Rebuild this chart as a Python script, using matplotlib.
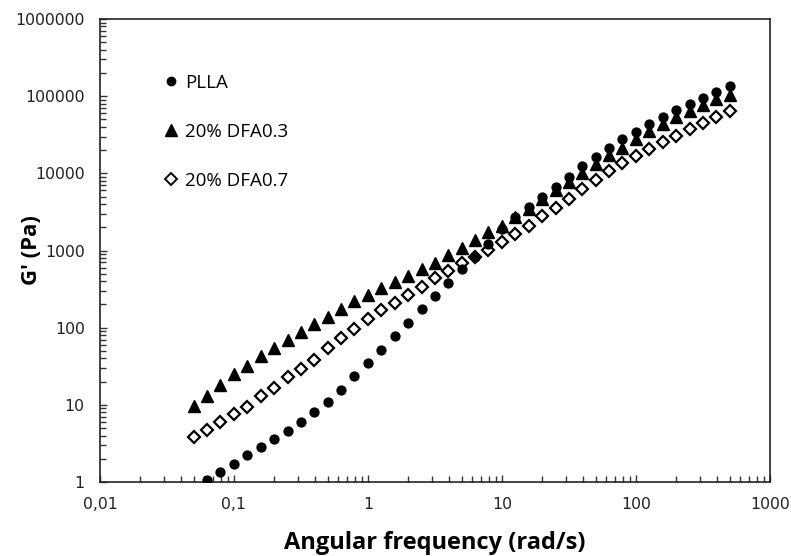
import matplotlib
matplotlib.use("Agg")
import matplotlib.pyplot as plt
from matplotlib.ticker import FixedLocator, FuncFormatter, LogLocator, NullFormatter
from matplotlib.lines import Line2D

# Angular frequency (rad/s)
freq = [0.05, 0.0629, 0.0792, 0.0998, 0.126, 0.158, 0.199, 0.251, 0.316, 0.398,
        0.5, 0.629, 0.792, 0.998, 1.26, 1.58, 1.99, 2.51, 3.16, 3.98,
        5.0, 6.29, 7.92, 9.98, 12.6, 15.8, 19.9, 25.1, 31.6, 39.8,
        50.0, 62.9, 79.2, 99.8, 126, 158, 199, 251, 316, 398, 500]

# PLLA (first frequency point is below the axis range -> starts at 0.0629)
plla_freq = freq[1:]
plla = [1.05, 1.36, 1.70, 2.23, 2.80, 3.63, 4.57, 5.92, 7.98, 11.0,
        15.6, 23.3, 34.7, 51.9, 77.3, 115, 172, 256, 375, 571,
        818, 1210, 1900, 2700, 3650, 5000, 6600, 9000, 12300, 16500,
        21500, 27500, 34500, 43000, 53000, 66000, 80000, 96000, 114000, 135000]

dfa03 = [9.8, 13.2, 18.2, 25.3, 32, 42.4, 54.4, 70, 88, 113,
         139, 177, 221, 264, 330, 394, 462, 580, 696, 877,
         1090, 1370, 1730, 2100, 2700, 3500, 4600, 6000, 7750, 10100,
         13400, 17100, 21500, 27500, 35000, 43000, 53000, 64000, 76000, 91000, 105000]

dfa07 = [3.8, 4.7, 5.92, 7.61, 9.27, 13.2, 16.4, 22.8, 29.3, 38.4,
         54.4, 73.4, 97.3, 131, 169, 206, 264, 333, 436, 547,
         684, 833, 1018, 1280, 1640, 2070, 2760, 3560, 4700, 6300,
         8200, 10800, 13600, 16800, 20500, 25500, 30500, 37000, 45000, 54000, 64000]

labels = ["PLLA", "20% DFA0.3", "20% DFA0.7"]
xticks = [0.01, 0.1, 1, 10, 100, 1000]
xticklabels = ["0,01", "0,1", "1", "10", "100", "1000"]
yticks = [1, 10, 100, 1000, 10000, 100000, 1000000]
yticklabels = ["1", "10", "100", "1000", "10000", "100000", "1000000"]

fig = plt.figure(figsize=(7.91, 5.56), dpi=100)
ax = fig.add_axes([0.1264, 0.1331, 0.8471, 0.8327])

ax.plot(freq, dfa07, linestyle="none", marker="D", markersize=6.4,
        markerfacecolor="white", markeredgecolor="black", markeredgewidth=1.6, zorder=3)
ax.plot(freq, dfa03, linestyle="none", marker="^", markersize=8.4,
        color="black", zorder=4)
ax.plot(plla_freq, plla, linestyle="none", marker="o", markersize=6.4,
        color="black", zorder=5)

ax.set_xscale("log")
ax.set_yscale("log")
ax.set_xlim(0.01, 1000)
ax.set_ylim(1, 1000000)

ax.xaxis.set_major_locator(FixedLocator(xticks))
ax.xaxis.set_major_formatter(FuncFormatter(lambda v, p: xticklabels[xticks.index(v)] if v in xticks else ""))
ax.yaxis.set_major_locator(FixedLocator(yticks))
ax.yaxis.set_major_formatter(FuncFormatter(lambda v, p: yticklabels[yticks.index(v)] if v in yticks else ""))
ax.xaxis.set_minor_locator(LogLocator(base=10, subs=range(2, 10), numticks=20))
ax.yaxis.set_minor_locator(LogLocator(base=10, subs=range(2, 10), numticks=20))
ax.xaxis.set_minor_formatter(NullFormatter())
ax.yaxis.set_minor_formatter(NullFormatter())

ax.tick_params(axis="both", which="both", direction="in", top=False, right=False,
               width=1.0, color="#333333")
ax.tick_params(axis="both", which="major", length=5, labelsize=11.3, labelcolor="#222222")
ax.tick_params(axis="both", which="minor", length=4)
ax.tick_params(axis="x", which="major", pad=11)
ax.tick_params(axis="y", which="major", pad=11)

for s in ax.spines.values():
    s.set_linewidth(1.2)
    s.set_color("#222222")

ax.set_xlabel("Angular frequency (rad/s)", fontsize=17, fontweight="bold",
              family=["Open Sans", "DejaVu Sans"])
ax.xaxis.set_label_coords(0.5, -0.106)
ax.set_ylabel("G' (Pa)", fontsize=16, fontweight="bold",
              family=["Open Sans", "DejaVu Sans"])
ax.yaxis.set_label_coords(-0.087, 0.5)

handles = [
    Line2D([], [], linestyle="none", marker="o", markersize=6.0, color="black"),
    Line2D([], [], linestyle="none", marker="^", markersize=8.0, color="black"),
    Line2D([], [], linestyle="none", marker="D", markersize=6.2, markerfacecolor="white",
           markeredgecolor="black", markeredgewidth=1.4),
]
leg = ax.legend(handles, labels, loc="upper left", bbox_to_anchor=(0.069, 0.918),
                frameon=False, handlelength=0.8, handletextpad=0.35, labelspacing=1.65,
                prop={"family": ["Open Sans", "DejaVu Sans"], "size": 13.5})

fig.savefig("out.png", dpi=100)
